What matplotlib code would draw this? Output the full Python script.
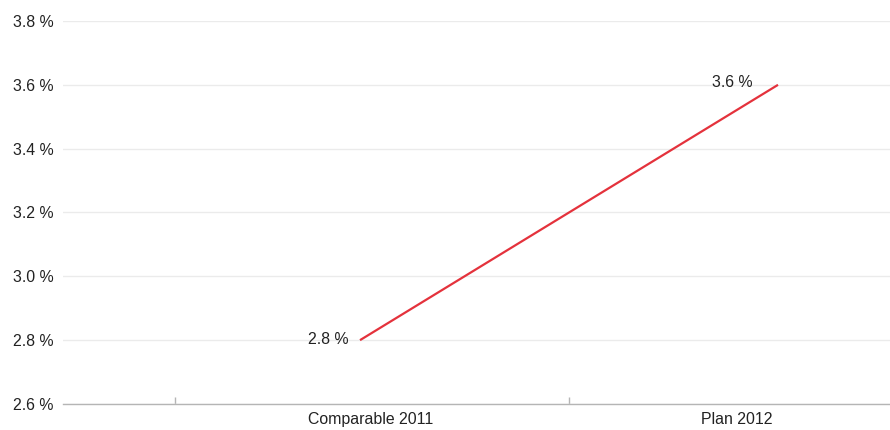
import matplotlib
matplotlib.use("Agg")
import matplotlib.pyplot as plt
import numpy as np

plt.rcParams['font.family'] = ['Liberation Sans', 'DejaVu Sans']

categories = ["Comparable 2011", "Plan 2012"]
values = [2.8, 3.6]
y_ticks = [2.6, 2.8, 3.0, 3.2, 3.4, 3.6, 3.8]

W, H = 890, 430
FS = 11.4
fig = plt.figure(figsize=(W / 100, H / 100), dpi=100)
ax = fig.add_axes([63 / W, 1 - 404 / H, 1 - 63 / W, (404 - 21) / H])

x = np.arange(len(categories))
ax.plot(x, values, color="#e4323c", linewidth=1.6, solid_capstyle="butt", zorder=3)

# value labels to the left of each point
label_offsets = [(-11, 1), (-25, 2)]
for xi, v, off in zip(x, values, label_offsets):
    ax.annotate(f"{v:.1f} %", (xi, v), xytext=off, textcoords="offset pixels",
                ha="right", va="center", fontsize=FS, color="#222222")

ax.set_ylim(2.6, 3.8)
ax.set_yticks(y_ticks)
ax.set_yticklabels([f"{t:.1f} %" for t in y_ticks])
ax.set_xlim(-(360 - 63) / 418, 1 + (890 - 778) / 418)

ax.grid(axis="y", color="#ebebeb", linewidth=1)
ax.set_axisbelow(True)
for s in ["top", "right", "left"]:
    ax.spines[s].set_visible(False)
ax.spines["bottom"].set_color("#b5b5b5")
ax.spines["bottom"].set_linewidth(1)

ax.tick_params(axis="y", length=0, pad=7, labelsize=FS, labelcolor="#222222")
# category separators on the x axis
ax.set_xticks([-0.443, 0.5])
ax.set_xticklabels([])
ax.tick_params(axis="x", direction="in", length=5, color="#b5b5b5", width=1)

trans = ax.get_xaxis_transform()
ax.text(x[0] + 0.026, -0.02, categories[0], transform=trans, ha="center", va="top",
        fontsize=FS, color="#222222")
ax.text(x[1] - 0.012, -0.02, categories[1], transform=trans, ha="right", va="top",
        fontsize=FS, color="#222222")

fig.savefig("out.png", dpi=100)
